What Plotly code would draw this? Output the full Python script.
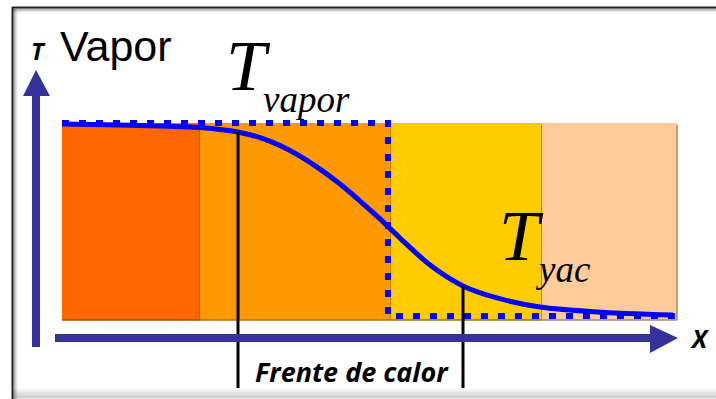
import plotly.graph_objects as go

W, H = 716, 399

# ---- data (physical units: position x 0..10, normalised temperature T 0..1) ----
zone_edges = [0.0, 2.244, 5.35, 7.805, 10.0]
zone_colors = ["#FF6600", "#FF9900", "#FFCC00", "#FFCC99"]
zone_edge_colors = ["#B04A00", "#B06E00", "#8C7A00", "#A88A6A"]

curve_x = [0.0, 0.943, 1.593, 2.244, 2.569, 2.894, 3.220, 3.545, 3.870, 4.195, 4.520,
           4.846, 5.171, 5.496, 5.984, 6.520, 7.073, 7.772, 8.699, 9.935]
curve_T = [0.995, 0.990, 0.985, 0.977, 0.967, 0.952, 0.926, 0.886, 0.832, 0.766, 0.690,
           0.604, 0.513, 0.416, 0.279, 0.173, 0.112, 0.066, 0.041, 0.025]

step_x = [0.0, 5.30, 5.30, 9.97]
step_T = [1.0, 1.0, 0.02, 0.02]

front_x = [2.862, 6.520]
front_T_top = [0.954, 0.173]
front_T_bottom = -0.345

x_range = [-1.0081, 10.634]
T_range = [-0.401, 1.6244]


def px(x):
    return x / W


def py(y):
    return 1 - y / H


fig = go.Figure()

shapes = []
# zones
for i in range(len(zone_colors)):
    shapes.append(dict(type="rect", xref="x", yref="y",
                       x0=zone_edges[i], x1=zone_edges[i + 1], y0=0, y1=1,
                       fillcolor=zone_colors[i], line=dict(width=0), layer="below"))
    shapes.append(dict(type="line", xref="x", yref="y",
                       x0=zone_edges[i + 1], x1=zone_edges[i + 1], y0=0, y1=0.99,
                       line=dict(color=zone_edge_colors[i], width=1.5), layer="below"))
    shapes.append(dict(type="line", xref="x", yref="y",
                       x0=zone_edges[i], x1=zone_edges[i + 1], y0=0, y1=0,
                       line=dict(color=zone_edge_colors[i], width=1.5), layer="below"))

# front lines
for fx, ft in zip(front_x, front_T_top):
    shapes.append(dict(type="line", xref="x", yref="y", x0=fx, x1=fx,
                       y0=front_T_bottom, y1=ft, line=dict(color="black", width=3)))

# axes arrows (decoration, paper coords)
arrow_col = "#333399"
shapes.append(dict(type="rect", xref="paper", yref="paper",
                   x0=px(32), x1=px(40), y0=py(347), y1=py(94),
                   fillcolor=arrow_col, line=dict(width=0)))
shapes.append(dict(type="path", xref="paper", yref="paper",
                   path=f"M {px(23)} {py(96)} L {px(50)} {py(96)} L {px(36)} {py(70)} Z",
                   fillcolor=arrow_col, line=dict(width=0)))
shapes.append(dict(type="rect", xref="paper", yref="paper",
                   x0=px(55), x1=px(652), y0=py(342), y1=py(334),
                   fillcolor=arrow_col, line=dict(width=0)))
shapes.append(dict(type="path", xref="paper", yref="paper",
                   path=f"M {px(650)} {py(325)} L {px(650)} {py(353)} L {px(678)} {py(338)} Z",
                   fillcolor=arrow_col, line=dict(width=0)))

# frame with shadow
for k, a in enumerate([0.35, 0.25, 0.15, 0.08]):
    shapes.append(dict(type="line", xref="paper", yref="paper",
                       x0=px(12), x1=1, y0=py(9 + k), y1=py(9 + k),
                       line=dict(color=f"rgba(0,0,0,{a})", width=1)))
    shapes.append(dict(type="line", xref="paper", yref="paper",
                       x0=px(14 + k), x1=px(14 + k), y0=py(9), y1=0,
                       line=dict(color=f"rgba(0,0,0,{a})", width=1)))
for k in range(10):
    a = 0.03 + 0.02 * k
    shapes.append(dict(type="line", xref="paper", yref="paper",
                       x0=px(12), x1=1, y0=py(389 + k), y1=py(389 + k),
                       line=dict(color=f"rgba(0,0,0,{a:.3f})", width=1)))
shapes.append(dict(type="line", xref="paper", yref="paper",
                   x0=px(12), x1=1, y0=py(7.5), y1=py(7.5),
                   line=dict(color="#222222", width=2)))
shapes.append(dict(type="line", xref="paper", yref="paper",
                   x0=px(12.5), x1=px(12.5), y0=py(7), y1=0,
                   line=dict(color="#222222", width=2)))

# curves
fig.add_trace(go.Scatter(x=step_x, y=step_T, mode="lines",
                         line=dict(color="#0000FF", width=6, dash="7px,10px"),
                         hoverinfo="skip"))
fig.add_trace(go.Scatter(x=curve_x, y=curve_T, mode="lines",
                         line=dict(color="#0000FF", width=5, shape="spline", smoothing=0.8),
                         hoverinfo="skip"))

ann = []


def label(text, x, y, size, family, xanchor="center", color="black"):
    ann.append(dict(text=text, xref="paper", yref="paper", x=px(x), y=py(y),
                    xanchor=xanchor, yanchor="middle", showarrow=False,
                    font=dict(size=size, family=family, color=color)))


label("Vapor", 58, 46, 43, "Liberation Sans", xanchor="left")
label("<b><i>T</i></b>", 38, 50, 24, "Open Sans")
label("<i>T</i>", 248, 66, 72, "Liberation Serif")
label("<i>vapor</i>", 306, 99, 37, "Liberation Serif")
label("<i>T</i>", 521, 236, 72, "Liberation Serif")
label("<i>yac</i>", 563, 269, 37, "Liberation Serif")
label("<b><i>Frente de calor</i></b>", 352, 371, 27, "Open Sans")
label("<b><i>X</i></b>", 700, 338, 25, "Open Sans")

fig.update_layout(
    width=W, height=H, autosize=False,
    margin=dict(l=0, r=0, t=0, b=0),
    paper_bgcolor="white", plot_bgcolor="white",
    showlegend=False,
    xaxis=dict(range=x_range, visible=False, fixedrange=True),
    yaxis=dict(range=T_range, visible=False, fixedrange=True),
    shapes=shapes, annotations=ann,
)

fig.write_html("out.html", config={"displayModeBar": False})

# remove the browser's default body margin so the figure fills the window
with open("out.html", encoding="utf-8") as f:
    html = f.read()
html = html.replace("<head>", "<head><style>html,body{margin:0;padding:0;overflow:hidden;}</style>", 1)
with open("out.html", "w", encoding="utf-8") as f:
    f.write(html)
